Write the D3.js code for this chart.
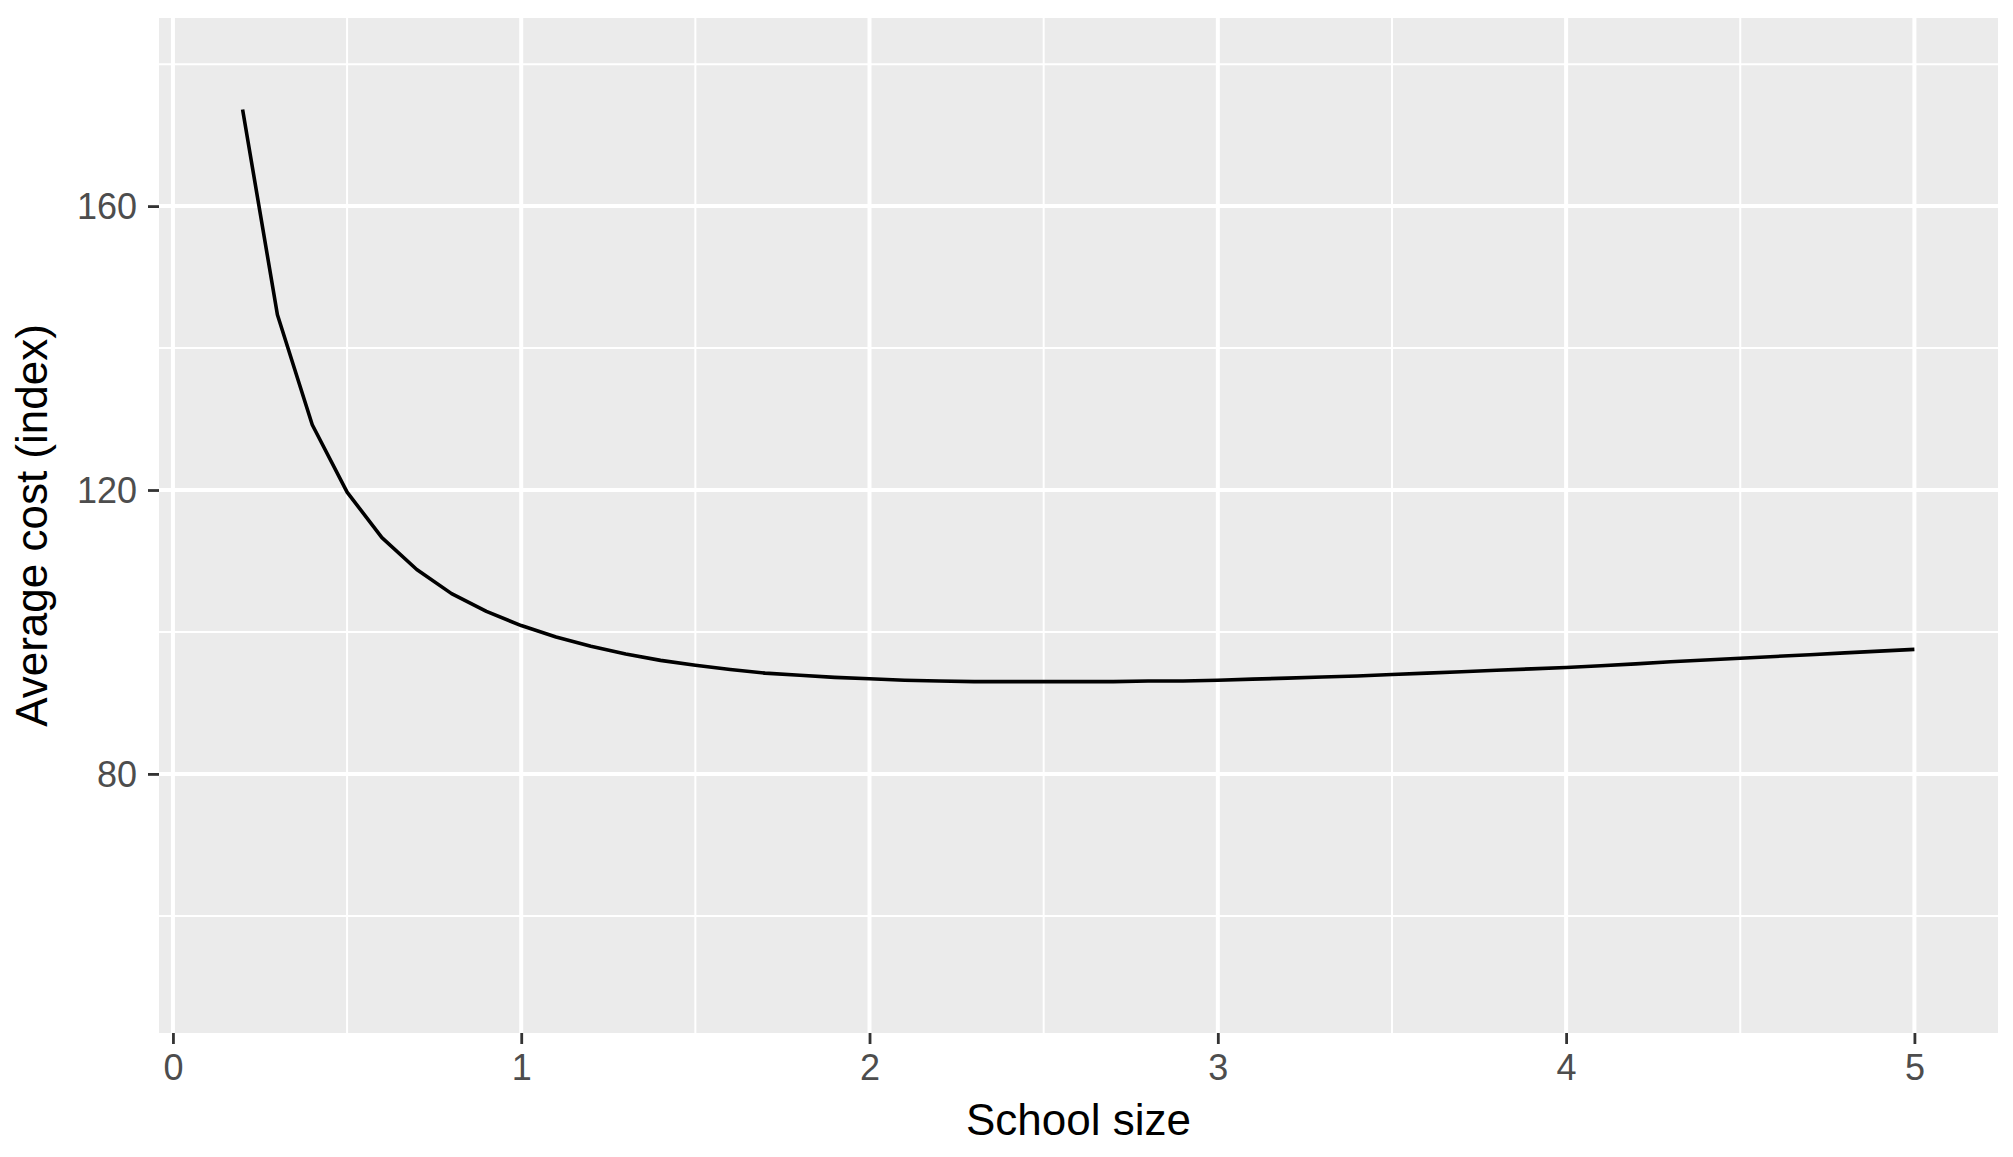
<!DOCTYPE html>
<html>
<head>
<meta charset="utf-8">
<script src="https://cdn.jsdelivr.net/npm/d3@7"></script>
<style>
  body { margin: 0; background: #fff; overflow: hidden; }
  svg { display: block; }
  svg text { font-family: "Liberation Sans", Arial, sans-serif; }
</style>
</head>
<body>
<div id="chart"></div>
<script>
// school size (x) and average cost index (y)
var schoolSize = [0.2, 0.3, 0.4, 0.5, 0.6, 0.7, 0.8, 0.9, 1.0,
    1.1, 1.2, 1.3, 1.4, 1.5, 1.6, 1.7, 1.8, 1.9, 2.0,
    2.1, 2.2, 2.3, 2.4, 2.5, 2.6, 2.7, 2.8, 2.9, 3.0,
    3.1, 3.2, 3.3, 3.4, 3.5, 3.6, 3.7, 3.8, 3.9, 4.0,
    4.1, 4.2, 4.3, 4.4, 4.5, 4.6, 4.7, 4.8, 4.9, 5.0];
var avgCost = [173.6, 144.7, 129.2, 119.7, 113.3, 108.8, 105.4, 102.9, 100.9,
    99.3, 98.0, 96.9, 96.0, 95.3, 94.7, 94.2, 93.9, 93.6, 93.4,
    93.2, 93.1, 93.0, 93.0, 93.0, 93.0, 93.0, 93.1, 93.1, 93.2,
    93.35, 93.5, 93.65, 93.8, 94.0, 94.2, 94.4, 94.6, 94.8, 95.0,
    95.25, 95.5, 95.8, 96.05, 96.3, 96.55, 96.8, 97.05, 97.3, 97.55];

var xTicks = [0, 1, 2, 3, 4, 5];
var xMinor = [0.5, 1.5, 2.5, 3.5, 4.5];
var yTicks = [80, 120, 160];
var yMinor = [60, 100, 140, 180];
var yLimits = [50, 180];

var W = 2013, H = 1157;
var margin = {top: 18, right: 15, bottom: 124, left: 159};
var width = W - margin.left - margin.right,
    height = H - margin.top - margin.bottom;

var svg = d3.select("#chart")
    .append("svg")
    .attr("width", W)
    .attr("height", H);

var g = svg.append("g")
    .attr("transform", "translate(" + margin.left + "," + margin.top + ")");

// ggplot style 5% expansion
var xExt = d3.extent(schoolSize), xPad = (xExt[1] - xExt[0]) * 0.05;
var yPad = (yLimits[1] - yLimits[0]) * 0.05;

var x = d3.scaleLinear()
    .domain([xExt[0] - xPad, xExt[1] + xPad])
    .range([0, width]);
var y = d3.scaleLinear()
    .domain([yLimits[0] - yPad, yLimits[1] + yPad])
    .range([height, 0]);

// panel background
g.append("rect")
    .attr("width", width)
    .attr("height", height)
    .attr("fill", "#EBEBEB");

// minor grid
g.selectAll(".ym").data(yMinor).enter().append("line")
    .attr("x1", 0).attr("x2", width)
    .attr("y1", function(d) { return y(d); })
    .attr("y2", function(d) { return y(d); })
    .attr("stroke", "#fff").attr("stroke-width", 2);
g.selectAll(".xm").data(xMinor).enter().append("line")
    .attr("y1", 0).attr("y2", height)
    .attr("x1", function(d) { return x(d); })
    .attr("x2", function(d) { return x(d); })
    .attr("stroke", "#fff").attr("stroke-width", 2);

// major grid
g.selectAll(".yg").data(yTicks).enter().append("line")
    .attr("x1", 0).attr("x2", width)
    .attr("y1", function(d) { return y(d); })
    .attr("y2", function(d) { return y(d); })
    .attr("stroke", "#fff").attr("stroke-width", 4);
g.selectAll(".xg").data(xTicks).enter().append("line")
    .attr("y1", 0).attr("y2", height)
    .attr("x1", function(d) { return x(d); })
    .attr("x2", function(d) { return x(d); })
    .attr("stroke", "#fff").attr("stroke-width", 4);

// the curve
var line = d3.line()
    .x(function(d, i) { return x(schoolSize[i]); })
    .y(function(d) { return y(d); });
g.append("path")
    .datum(avgCost)
    .attr("d", line)
    .attr("fill", "none")
    .attr("stroke", "#000")
    .attr("stroke-width", 3.6)
    .attr("stroke-linejoin", "round");

// axes
var xAxis = g.append("g")
    .attr("transform", "translate(0," + height + ")")
    .call(d3.axisBottom(x).tickValues(xTicks).tickSize(11).tickPadding(10).tickFormat(d3.format("d")));
var yAxis = g.append("g")
    .call(d3.axisLeft(y).tickValues(yTicks).tickSize(11).tickPadding(11).tickFormat(d3.format("d")));

[xAxis, yAxis].forEach(function(a) {
    a.select(".domain").remove();
    a.selectAll(".tick line").attr("stroke", "#333333").attr("stroke-width", 2.8);
    a.selectAll(".tick text")
        .attr("fill", "#4D4D4D")
        .style("font-size", "36px")
        .style("font-family", "'Liberation Sans', Arial, sans-serif");
});
yAxis.selectAll(".tick text").attr("dy", "0.35em");

// axis titles
svg.append("text")
    .attr("x", margin.left + width / 2)
    .attr("y", 1135)
    .attr("text-anchor", "middle")
    .style("font-size", "44px")
    .attr("fill", "#000")
    .text("School size");

svg.append("text")
    .attr("transform", "translate(47," + (margin.top + height / 2) + ")rotate(-90)")
    .attr("text-anchor", "middle")
    .style("font-size", "44px")
    .attr("fill", "#000")
    .text("Average cost (index)");
</script>
</body>
</html>
